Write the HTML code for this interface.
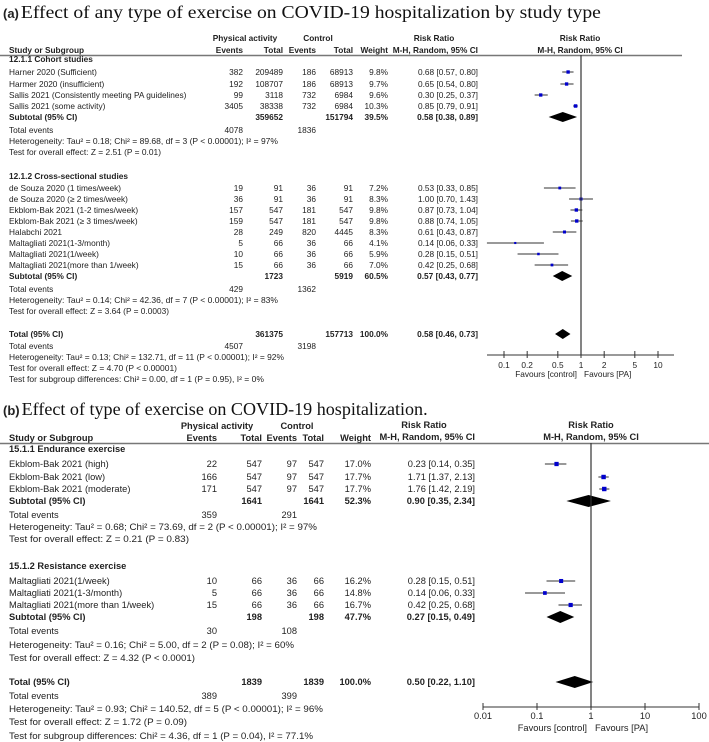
<!DOCTYPE html>
<html><head><meta charset="utf-8"><style>
html,body{margin:0;padding:0;background:#fff;width:709px;height:742px;overflow:hidden}
svg{display:block}
text{font-family:"Liberation Sans",Arial,sans-serif;fill:#222}
.serif{font-family:"Liberation Serif",serif;fill:#111}
</style></head><body>
<svg id="chart" width="709" height="742" viewBox="0 0 709 742" xmlns="http://www.w3.org/2000/svg">
<text x="3" y="18"><tspan font-weight="bold" font-size="13">(a)</tspan><tspan class="serif" font-size="18" dx="2" textLength="580" lengthAdjust="spacingAndGlyphs">Effect of any type of exercise on COVID-19 hospitalization by study type</tspan></text>
<text x="3" y="415"><tspan font-weight="bold" font-size="13">(b)</tspan><tspan class="serif" font-size="18" dx="2" textLength="406" lengthAdjust="spacingAndGlyphs">Effect of type of exercise on COVID-19 hospitalization.</tspan></text>
</svg>
<script>
// ---------- Panel A data ----------
const aStudies = ["Harner 2020 (Sufficient)","Harmer 2020 (insufficient)","Sallis 2021 (Consistently meeting PA guidelines)","Sallis 2021 (some activity)","de Souza 2020 (1 times/week)","de Souza 2020 (≥ 2 times/week)","Ekblom-Bak 2021 (1-2 times/week)","Ekblom-Bak 2021 (≥ 3 times/week)","Halabchi 2021","Maltagliati 2021(1-3/month)","Maltagliati 2021(1/week)","Maltagliati 2021(more than 1/week)"];
const aEvents = [382,192,99,3405,19,36,157,159,28,5,10,15];
const aTotals = [209489,108707,3118,38338,91,91,547,547,249,66,66,66];
const aCtrlEvents = [186,186,732,732,36,36,181,181,820,36,36,36];
const aCtrlTotals = [68913,68913,6984,6984,91,91,547,547,4445,66,66,66];
const aWeights = [9.8,9.7,9.6,10.3,7.2,8.3,9.8,9.8,8.3,4.1,5.9,7.0];
const aRR = [0.68,0.65,0.30,0.85,0.53,1.00,0.87,0.88,0.61,0.14,0.28,0.42];
const aLo = [0.57,0.54,0.25,0.79,0.33,0.70,0.73,0.74,0.43,0.06,0.15,0.25];
const aHi = [0.80,0.80,0.37,0.91,0.85,1.43,1.04,1.05,0.87,0.33,0.51,0.68];
const aRowY = [72,84,95,106,188,199,210,221,232,243,254,265];
const aPooledRR = [0.58,0.57,0.58];
const aPooledLo = [0.38,0.43,0.46];
const aPooledHi = [0.89,0.77,0.73];
const aPooledY = [117,276,334];
const aTicks = [0.1,0.2,0.5,1,2,5,10];
const aTickLabels = ["0.1","0.2","0.5","1","2","5","10"];
// ---------- Panel B data ----------
const bStudies = ["Ekblom-Bak 2021 (high)","Ekblom-Bak 2021 (low)","Ekblom-Bak 2021 (moderate)","Maltagliati 2021(1/week)","Maltagliati 2021(1-3/month)","Maltagliati 2021(more than 1/week)"];
const bEvents = [22,166,171,10,5,15];
const bTotals = [547,547,547,66,66,66];
const bCtrlEvents = [97,97,97,36,36,36];
const bCtrlTotals = [547,547,547,66,66,66];
const bWeights = [17.0,17.7,17.7,16.2,14.8,16.7];
const bRR = [0.23,1.71,1.76,0.28,0.14,0.42];
const bLo = [0.14,1.37,1.42,0.15,0.06,0.25];
const bHi = [0.35,2.13,2.19,0.51,0.33,0.68];
const bRowY = [464,477,489,581,593,605];
const bPooledRR = [0.90,0.27,0.50];
const bPooledLo = [0.35,0.15,0.22];
const bPooledHi = [2.34,0.49,1.10];
const bPooledY = [501,617,682];
const bTicks = [0.01,0.1,1,10,100];
const bTickLabels = ["0.01","0.1","1","10","100"];

const svg = document.getElementById('chart');
const NS = "http://www.w3.org/2000/svg";
const xA = v => 581 + 77*Math.log10(v);
const xB = v => 591 + 54*Math.log10(v);

function mk(tag, attrs, name){
  const el = document.createElementNS(NS, tag);
  for (const k in attrs) el.setAttribute(k, attrs[k]);
  
  
  svg.appendChild(el);
  return el;
}
function T(x,y,s,name,o){
  o = o||{};
  const a = {x:x,y:y+3,'font-size':o.fs||8.3};
  if (o.anchor) a['text-anchor']=o.anchor;
  if (o.bold) a['font-weight']='bold';
  if (o.len){a.textLength=o.len;a.lengthAdjust='spacingAndGlyphs';}
  const el = mk('text',a,name);
  el.textContent = s;
  return el;
}
function fmt(v){return v.toFixed(2);}
function ci(r,l,h){return fmt(r)+" ["+fmt(l)+", "+fmt(h)+"]";}

// ================= PANEL A =================
const FA = 8.3;
T(245,38,"Physical activity","a-header-physical-activity",{anchor:'middle',bold:1,fs:FA});
T(318,38,"Control","a-header-control",{anchor:'middle',bold:1,fs:FA});
T(434,38,"Risk Ratio","a-header-risk-ratio",{anchor:'middle',bold:1,fs:FA});
T(580,38,"Risk Ratio","a-header-risk-ratio-plot",{anchor:'middle',bold:1,fs:FA});
T(9,50,"Study or Subgroup","a-header-study",{bold:1,fs:FA});
T(243,50,"Events","a-header-events",{anchor:'end',bold:1,fs:FA});
T(283,50,"Total","a-header-total",{anchor:'end',bold:1,fs:FA});
T(316,50,"Events","a-header-ctrl-events",{anchor:'end',bold:1,fs:FA});
T(353,50,"Total","a-header-ctrl-total",{anchor:'end',bold:1,fs:FA});
T(388,50,"Weight","a-header-weight",{anchor:'end',bold:1,fs:FA});
T(478,50,"M-H, Random, 95% CI","a-header-mh",{anchor:'end',bold:1,fs:FA});
T(580,50,"M-H, Random, 95% CI","a-header-mh-plot",{anchor:'middle',bold:1,fs:FA});
mk('line',{x1:0,y1:55.5,x2:682,y2:55.5,stroke:'#777','stroke-width':1.5},'a-header-rule');
T(9,59,"12.1.1 Cohort studies","a-subgroup-cohort",{bold:1,fs:FA});
T(9,176,"12.1.2 Cross-sectional studies","a-subgroup-cross-sectional",{bold:1,fs:FA});

for (let i=0;i<aStudies.length;i++){
  const y = aRowY[i];
  T(9,y,aStudies[i],'a-study-label',{fs:FA});
  T(243,y,String(aEvents[i]),'a-pa-events',{anchor:'end',fs:FA});
  T(283,y,String(aTotals[i]),'a-pa-total',{anchor:'end',fs:FA});
  T(316,y,String(aCtrlEvents[i]),'a-ctrl-events',{anchor:'end',fs:FA});
  T(353,y,String(aCtrlTotals[i]),'a-ctrl-total',{anchor:'end',fs:FA});
  T(388,y,aWeights[i].toFixed(1)+"%",'a-weight',{anchor:'end',fs:FA});
  T(478,y,ci(aRR[i],aLo[i],aHi[i]),'a-rr-text',{anchor:'end',fs:FA});
  mk('line',{x1:xA(aLo[i]),y1:y,x2:xA(aHi[i]),y2:y,stroke:'#333','stroke-width':1},'a-ci-line');
  const s = 1.2+aWeights[i]*0.22;
  mk('rect',{x:xA(aRR[i])-s/2,y:y-s/2,width:s,height:s,fill:'#0000cc'},'a-point-estimate');
}
const aSubNames=["Subtotal (95% CI)","Subtotal (95% CI)","Total (95% CI)"];
const aSubTot=[["359652","151794","39.5%"],["1723","5919","60.5%"],["361375","157713","100.0%"]];
for (let i=0;i<3;i++){
  const y=aPooledY[i];
  T(9,y,aSubNames[i],'a-pooled-label',{bold:1,fs:FA});
  T(283,y,aSubTot[i][0],'a-pooled-pa-total',{anchor:'end',bold:1,fs:FA});
  T(353,y,aSubTot[i][1],'a-pooled-ctrl-total',{anchor:'end',bold:1,fs:FA});
  T(388,y,aSubTot[i][2],'a-pooled-weight',{anchor:'end',bold:1,fs:FA});
  T(478,y,ci(aPooledRR[i],aPooledLo[i],aPooledHi[i]),'a-pooled-rr-text',{anchor:'end',bold:1,fs:FA});
  const cx=xA(aPooledRR[i]),l=xA(aPooledLo[i]),h=xA(aPooledHi[i]);
  mk('polygon',{points:`${l},${y} ${cx},${y-5} ${h},${y} ${cx},${y+5}`,fill:'#000'},'a-pooled-diamond');
}
const aInfo=[
 [130,"Total events",["4078","1836"]],
 [141,"Heterogeneity: Tau² = 0.18; Chi² = 89.68, df = 3 (P < 0.00001); I² = 97%",null,269],
 [152,"Test for overall effect: Z = 2.51 (P = 0.01)",null,152],
 [289,"Total events",["429","1362"]],
 [300,"Heterogeneity: Tau² = 0.14; Chi² = 42.36, df = 7 (P < 0.00001); I² = 83%",null,269],
 [311,"Test for overall effect: Z = 3.64 (P = 0.0003)",null,160],
 [346,"Total events",["4507","3198"]],
 [357,"Heterogeneity: Tau² = 0.13; Chi² = 132.71, df = 11 (P < 0.00001); I² = 92%",null,275],
 [368,"Test for overall effect: Z = 4.70 (P < 0.00001)",null,168],
 [379,"Test for subgroup differences: Chi² = 0.00, df = 1 (P = 0.95), I² = 0%",null,255]];
aInfo.forEach(r=>{
  T(9,r[0],r[1],'a-summary-text',{fs:FA,len:r[3]});
  if(r[2]){T(243,r[0],r[2][0],'a-total-events-pa',{anchor:'end',fs:FA});T(316,r[0],r[2][1],'a-total-events-ctrl',{anchor:'end',fs:FA});}
});
mk('line',{x1:xA(1),y1:55,x2:xA(1),y2:355,stroke:'#333','stroke-width':1.2},'a-null-line');
mk('line',{x1:487,y1:355,x2:674,y2:355,stroke:'#333','stroke-width':1},'a-x-axis');
aTicks.forEach((v,i)=>{
  mk('line',{x1:xA(v),y1:351,x2:xA(v),y2:358,stroke:'#333','stroke-width':1},'a-x-tick');
  T(xA(v),365,aTickLabels[i],'a-x-tick-label',{anchor:'middle',fs:FA});
});
T(577,374,"Favours [control]","a-favours-control",{anchor:'end',fs:FA});
T(584,374,"Favours [PA]","a-favours-pa",{fs:FA});

// ================= PANEL B =================
const FB = 9.3;
T(217,426,"Physical activity","b-header-physical-activity",{anchor:'middle',bold:1,fs:FB});
T(297,426,"Control","b-header-control",{anchor:'middle',bold:1,fs:FB});
T(424,425,"Risk Ratio","b-header-risk-ratio",{anchor:'middle',bold:1,fs:FB});
T(591,425,"Risk Ratio","b-header-risk-ratio-plot",{anchor:'middle',bold:1,fs:FB});
T(9,438,"Study or Subgroup","b-header-study",{bold:1,fs:FB});
T(217,438,"Events","b-header-events",{anchor:'end',bold:1,fs:FB});
T(262,438,"Total","b-header-total",{anchor:'end',bold:1,fs:FB});
T(297,438,"Events","b-header-ctrl-events",{anchor:'end',bold:1,fs:FB});
T(324,438,"Total","b-header-ctrl-total",{anchor:'end',bold:1,fs:FB});
T(371,438,"Weight","b-header-weight",{anchor:'end',bold:1,fs:FB});
T(475,437,"M-H, Random, 95% CI","b-header-mh",{anchor:'end',bold:1,fs:FB});
T(591,437,"M-H, Random, 95% CI","b-header-mh-plot",{anchor:'middle',bold:1,fs:FB});
mk('line',{x1:0,y1:443.5,x2:709,y2:443.5,stroke:'#777','stroke-width':1.5},'b-header-rule');
T(9,449,"15.1.1 Endurance exercise","b-subgroup-endurance",{bold:1,fs:FB});
T(9,566,"15.1.2 Resistance exercise","b-subgroup-resistance",{bold:1,fs:FB});
for (let i=0;i<bStudies.length;i++){
  const y=bRowY[i];
  T(9,y,bStudies[i],'b-study-label',{fs:FB});
  T(217,y,String(bEvents[i]),'b-pa-events',{anchor:'end',fs:FB});
  T(262,y,String(bTotals[i]),'b-pa-total',{anchor:'end',fs:FB});
  T(297,y,String(bCtrlEvents[i]),'b-ctrl-events',{anchor:'end',fs:FB});
  T(324,y,String(bCtrlTotals[i]),'b-ctrl-total',{anchor:'end',fs:FB});
  T(371,y,bWeights[i].toFixed(1)+"%",'b-weight',{anchor:'end',fs:FB});
  T(475,y,ci(bRR[i],bLo[i],bHi[i]),'b-rr-text',{anchor:'end',fs:FB});
  mk('line',{x1:xB(bLo[i]),y1:y,x2:xB(bHi[i]),y2:y,stroke:'#333','stroke-width':1},'b-ci-line');
  const s=bWeights[i]*0.25;
  mk('rect',{x:xB(bRR[i])-s/2,y:y-s/2,width:s,height:s,fill:'#0000cc'},'b-point-estimate');
}
const bSubNames=["Subtotal (95% CI)","Subtotal (95% CI)","Total (95% CI)"];
const bSubTot=[["1641","1641","52.3%"],["198","198","47.7%"],["1839","1839","100.0%"]];
for (let i=0;i<3;i++){
  const y=bPooledY[i];
  T(9,y,bSubNames[i],'b-pooled-label',{bold:1,fs:FB});
  T(262,y,bSubTot[i][0],'b-pooled-pa-total',{anchor:'end',bold:1,fs:FB});
  T(324,y,bSubTot[i][1],'b-pooled-ctrl-total',{anchor:'end',bold:1,fs:FB});
  T(371,y,bSubTot[i][2],'b-pooled-weight',{anchor:'end',bold:1,fs:FB});
  T(475,y,ci(bPooledRR[i],bPooledLo[i],bPooledHi[i]),'b-pooled-rr-text',{anchor:'end',bold:1,fs:FB});
  const cx=xB(bPooledRR[i]),l=xB(bPooledLo[i]),h=xB(bPooledHi[i]);
  mk('polygon',{points:`${l},${y} ${cx},${y-6} ${h},${y} ${cx},${y+6}`,fill:'#000'},'b-pooled-diamond');
}
const bInfo=[
 [515,"Total events",["359","291"]],
 [527,"Heterogeneity: Tau² = 0.68; Chi² = 73.69, df = 2 (P < 0.00001); I² = 97%",null,308],
 [539,"Test for overall effect: Z = 0.21 (P = 0.83)",null,180],
 [631,"Total events",["30","108"]],
 [645,"Heterogeneity: Tau² = 0.16; Chi² = 5.00, df = 2 (P = 0.08); I² = 60%",null,285],
 [658,"Test for overall effect: Z = 4.32 (P < 0.0001)",null,186],
 [696,"Total events",["389","399"]],
 [709,"Heterogeneity: Tau² = 0.93; Chi² = 140.52, df = 5 (P < 0.00001); I² = 96%",null,314],
 [722,"Test for overall effect: Z = 1.72 (P = 0.09)",null,178],
 [736,"Test for subgroup differences: Chi² = 4.36, df = 1 (P = 0.04), I² = 77.1%",null,304]];
bInfo.forEach(r=>{
  T(9,r[0],r[1],'b-summary-text',{fs:FB,len:r[3]});
  if(r[2]){T(217,r[0],r[2][0],'b-total-events-pa',{anchor:'end',fs:FB});T(297,r[0],r[2][1],'b-total-events-ctrl',{anchor:'end',fs:FB});}
});
mk('line',{x1:xB(1),y1:443,x2:xB(1),y2:707,stroke:'#333','stroke-width':1.2},'b-null-line');
mk('line',{x1:483,y1:707,x2:699,y2:707,stroke:'#333','stroke-width':1},'b-x-axis');
bTicks.forEach((v,i)=>{
  mk('line',{x1:xB(v),y1:703,x2:xB(v),y2:710,stroke:'#333','stroke-width':1},'b-x-tick');
  T(xB(v),716,bTickLabels[i],'b-x-tick-label',{anchor:'middle',fs:FB});
});
T(587,728,"Favours [control]","b-favours-control",{anchor:'end',fs:FB});
T(595,728,"Favours [PA]","b-favours-pa",{fs:FB});
</script>
</body></html>
